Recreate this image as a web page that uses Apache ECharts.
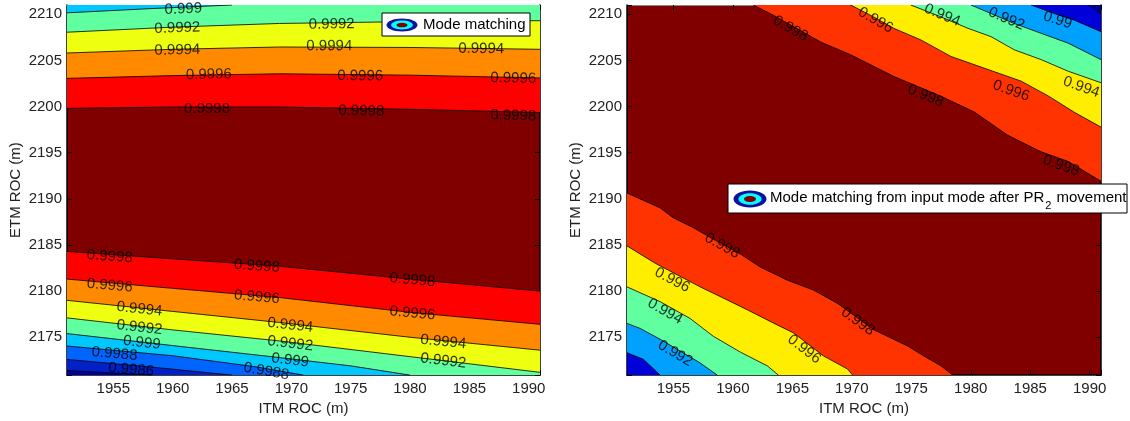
<!DOCTYPE html>
<html>
<head>
<meta charset="utf-8">
<script src="https://cdn.jsdelivr.net/npm/echarts@6/dist/echarts.min.js"></script>
<style>
html, body { margin: 0; padding: 0; background: #fff; }
#chart { width: 1130px; height: 421px; }
</style>
</head>
<body>
<div id="chart"></div>
<script>
// axis extents (m)
const X_MIN = 1951.1, X_MAX = 1990.95;
const Y_MIN = 2170.9, Y_MAX = 2211.0;

// ---- left panel: contour lines [ITM ROC, ETM ROC] ----
// upper family (value falls toward the top)
const leftUp9998 = [[1951.1, 2199.8], [1960, 2199.95], [1969, 2199.95], [1980, 2199.7], [1990.95, 2199.35]];
const leftUp9996 = [[1951.1, 2203.05], [1960, 2203.35], [1969, 2203.55], [1980, 2203.4], [1990.95, 2203.1]];
const leftUp9994 = [[1951.1, 2205.8], [1960, 2206.2], [1969, 2206.45], [1980, 2206.4], [1990.95, 2206.2]];
const leftUp9992 = [[1951.1, 2208.05], [1960, 2208.6], [1969, 2209.0], [1980, 2209.2], [1990.95, 2209.3]];
const leftUp999 = [[1951.1, 2210.15], [1958, 2210.6], [1965, 2211.0]];
// lower family (value falls toward the bottom)
const leftLo9998 = [[1951.1, 2184.3], [1960, 2183.5], [1969, 2182.7], [1980, 2181.3], [1990.95, 2180.0]];
const leftLo9996 = [[1951.1, 2181.3], [1960, 2180.3], [1969, 2179.3], [1980, 2177.7], [1990.95, 2176.4]];
const leftLo9994 = [[1951.1, 2179.0], [1960, 2177.8], [1969, 2176.6], [1980, 2175.0], [1990.95, 2173.6]];
const leftLo9992 = [[1951.1, 2177.1], [1960, 2175.8], [1969, 2174.6], [1980, 2172.9], [1990.95, 2171.2]];
const leftLo999 = [[1951.1, 2175.4], [1960, 2174.1], [1969, 2172.8], [1975, 2171.9], [1980, 2170.9]];
const leftLo9988 = [[1951.1, 2174.05], [1960, 2173.0], [1967, 2171.8], [1971, 2170.9]];
const leftLo9986 = [[1951.1, 2172.6], [1958, 2171.8], [1965, 2170.9]];
const leftLo9984 = [[1951.1, 2171.4], [1958.3, 2170.9]];

// ---- right panel: contour lines ----
const rightUp998 = [[1961.72, 2211.0], [1963.41, 2209.89], [1967.37, 2207.0], [1969.9, 2205.61], [1973.53, 2203.26],
  [1977.49, 2201.12], [1980.3, 2199.4], [1983.1, 2196.9], [1985.9, 2195.1], [1988.2, 2194.05], [1990.95, 2191.9]];
const rightUp996 = [[1969.9, 2211.0], [1971.84, 2209.71], [1973.53, 2208.47], [1975.8, 2207.22], [1978.33, 2205.43],
  [1981.45, 2204.01], [1984.24, 2202.75], [1986.51, 2201.15], [1988.71, 2199.37], [1990.95, 2197.77]];
const rightUp994 = [[1974.96, 2211.0], [1977.49, 2209.71], [1979.77, 2208.47], [1981.71, 2207.57], [1983.65, 2206.15],
  [1985.92, 2205.08], [1988.2, 2203.82], [1990.95, 2202.58]];
const rightUp992 = [[1980.02, 2211.0], [1981.71, 2210.07], [1983.65, 2209.0], [1985.92, 2207.93], [1988.2, 2206.86], [1990.95, 2205.08]];
const rightUp99 = [[1985.08, 2211.0], [1987.02, 2210.07], [1988.71, 2209.36], [1990.95, 2208.11]];
const rightUp988 = [[1989.89, 2211.0], [1990.95, 2210.07]];
const rightLo998 = [[1951.1, 2190.63], [1953.88, 2189.02], [1954.98, 2187.95], [1956.66, 2186.88], [1958.1, 2185.81],
  [1960.63, 2184.02], [1962.31, 2182.6], [1964.59, 2181.18], [1966.78, 2180.11], [1968.8, 2178.67], [1971.84, 2175.82],
  [1974.71, 2174.04], [1976.06, 2172.97], [1977.49, 2171.9], [1978.5, 2170.9]];
const rightLo996 = [[1951.1, 2184.9], [1953.5, 2183.0], [1957.25, 2180.46], [1959.53, 2179.04], [1961.22, 2177.97],
  [1963.41, 2176.54], [1965.1, 2175.47], [1967.63, 2172.97], [1969.65, 2171.55], [1970.07, 2170.9]];
const rightLo994 = [[1951.1, 2180.46], [1953.88, 2178.86], [1956.41, 2177.03], [1958.35, 2175.11], [1960.63, 2173.39],
  [1962.9, 2171.9], [1963.83, 2170.9]];
const rightLo992 = [[1951.1, 2176.5], [1952.2, 2175.96], [1953.88, 2174.79], [1955.57, 2173.5], [1957.25, 2172.22], [1958.69, 2170.9]];
const rightLo99 = [[1951.1, 2173.32], [1952.48, 2172.61], [1953.88, 2170.9]];

// contour labels [x, y, text]
const leftLabels = [
  [1960.9, 2210.55, '0.999'],
  [1960.4, 2208.5, '0.9992'], [1973.4, 2208.9, '0.9992'],
  [1960.4, 2206.1, '0.9994'], [1973.2, 2206.55, '0.9994'], [1986.0, 2206.25, '0.9994'],
  [1963.05, 2203.45, '0.9996'], [1975.8, 2203.3, '0.9996'], [1988.7, 2203.05, '0.9996'],
  [1962.9, 2199.7, '0.9998'], [1975.9, 2199.5, '0.9998'], [1988.7, 2199.0, '0.9998'],
  [1954.7, 2183.75, '0.9998'], [1967.1, 2182.7, '0.9998'], [1980.2, 2181.2, '0.9998'],
  [1954.7, 2180.6, '0.9996'], [1967.1, 2179.35, '0.9996'], [1980.2, 2177.6, '0.9996'],
  [1957.2, 2178.05, '0.9994'], [1969.9, 2176.3, '0.9994'], [1982.8, 2174.5, '0.9994'],
  [1957.2, 2176.05, '0.9992'], [1969.9, 2174.3, '0.9992'], [1982.8, 2172.45, '0.9992'],
  [1957.4, 2174.4, '0.999'], [1969.9, 2172.5, '0.999'],
  [1955.1, 2173.2, '0.9988'], [1967.9, 2171.3, '0.9988'],
  [1956.5, 2171.5, '0.9986']
];
const rightLabels = [
  [1964.85, 2208.45, '0.998'], [1976.2, 2201.15, '0.998'], [1987.6, 2193.6, '0.998'],
  [1972.0, 2209.35, '0.996'], [1983.4, 2201.7, '0.996'],
  [1977.6, 2209.9, '0.994'], [1989.3, 2202.1, '0.994'],
  [1983.0, 2209.5, '0.992'],
  [1987.3, 2209.35, '0.99'],
  [1959.1, 2184.9, '0.998'], [1970.5, 2176.7, '0.998'],
  [1954.9, 2181.2, '0.996'], [1966.0, 2173.7, '0.996'],
  [1954.3, 2177.8, '0.994'],
  [1955.15, 2173.25, '0.992']
];

const FONT = "'Liberation Sans', Arial, Helvetica, sans-serif";
const DARK_RED = '#800000';

// each line fills toward the plot edge with the colour of the band beyond it
const leftContours = [
  { lvl: '0.9998', pts: leftUp9998, to: 'end', color: '#ff0000' },
  { lvl: '0.9996', pts: leftUp9996, to: 'end', color: '#ff8a00' },
  { lvl: '0.9994', pts: leftUp9994, to: 'end', color: '#eeff10' },
  { lvl: '0.9992', pts: leftUp9992, to: 'end', color: '#60ffa0' },
  { lvl: '0.999', pts: leftUp999, to: 'end', color: '#00c8ff' },
  { lvl: '0.9998', pts: leftLo9998, to: 'start', color: '#ff0000' },
  { lvl: '0.9996', pts: leftLo9996, to: 'start', color: '#ff8a00' },
  { lvl: '0.9994', pts: leftLo9994, to: 'start', color: '#eeff10' },
  { lvl: '0.9992', pts: leftLo9992, to: 'start', color: '#60ffa0' },
  { lvl: '0.999', pts: leftLo999, to: 'start', color: '#00c8ff' },
  { lvl: '0.9988', pts: leftLo9988, to: 'start', color: '#0064ff' },
  { lvl: '0.9986', pts: leftLo9986, to: 'start', color: '#0020c8' },
  { lvl: '0.9984', pts: leftLo9984, to: 'start', color: '#0000a0' }
];
const rightContours = [
  { lvl: '0.998', pts: rightUp998, to: 'end', color: '#ff3300' },
  { lvl: '0.996', pts: rightUp996, to: 'end', color: '#ffee00' },
  { lvl: '0.994', pts: rightUp994, to: 'end', color: '#60ffa0' },
  { lvl: '0.992', pts: rightUp992, to: 'end', color: '#00a0ff' },
  { lvl: '0.99', pts: rightUp99, to: 'end', color: '#0000d8' },
  { lvl: '0.988', pts: rightUp988, to: 'end', color: '#000090' },
  { lvl: '0.998', pts: rightLo998, to: 'start', color: '#ff3300' },
  { lvl: '0.996', pts: rightLo996, to: 'start', color: '#ffee00' },
  { lvl: '0.994', pts: rightLo994, to: 'start', color: '#60ffa0' },
  { lvl: '0.992', pts: rightLo992, to: 'start', color: '#00a0ff' },
  { lvl: '0.99', pts: rightLo99, to: 'start', color: '#0000d8' }
];

const chart = echarts.init(document.getElementById('chart'));

function tickFmt(v) {
  return Math.abs(v / 5 - Math.round(v / 5)) < 1e-6 ? String(Math.round(v)) : '';
}

const xAxes = [], yAxes = [];
[0, 1].forEach(function (g) {
  const base = {
    type: 'value', gridIndex: g, splitNumber: 8, splitLine: { show: false },
    axisTick: { inside: true, length: 5, lineStyle: { color: '#000' } },
    axisLine: { lineStyle: { color: '#000', width: 1.5 } }
  };
  const lab = { fontSize: 15, color: '#222', fontFamily: FONT, margin: 6, formatter: tickFmt };
  const nameStyle = { fontSize: 15, color: '#222', fontFamily: FONT };
  xAxes.push(Object.assign({}, base, {
    min: X_MIN, max: X_MAX, position: 'bottom', axisLabel: lab,
    name: 'ITM ROC (m)', nameLocation: 'middle', nameGap: 21, nameTextStyle: nameStyle
  }));
  xAxes.push(Object.assign({}, base, {
    min: X_MIN, max: X_MAX, position: 'top', axisLabel: { show: false },
    axisLine: { lineStyle: { color: '#888', width: 1 } }
  }));
  yAxes.push(Object.assign({}, base, {
    min: Y_MIN, max: Y_MAX, position: 'left', axisLabel: Object.assign({}, lab, { margin: 5 }),
    name: 'ETM ROC (m)', nameLocation: 'middle', nameGap: 44, nameTextStyle: nameStyle
  }));
  yAxes.push(Object.assign({}, base, {
    min: Y_MIN, max: Y_MAX, position: 'right', axisLabel: { show: false }
  }));
});

function contourSeries(list, g) {
  return list.map(function (c) {
    return {
      type: 'line', xAxisIndex: g * 2, yAxisIndex: g * 2, data: c.pts,
      symbol: 'none', silent: true, z: 2,
      lineStyle: { color: '#000', width: 0.8 },
      areaStyle: { color: c.color, opacity: 1, origin: c.to }
    };
  });
}

function yOnLine(pts, x) {
  let i = 0;
  while (i < pts.length - 2 && x > pts[i + 1][0]) i++;
  const a = pts[i], b = pts[i + 1];
  return { y: a[1] + (b[1] - a[1]) * (x - a[0]) / (b[0] - a[0]), a: a, b: b };
}

function labelSeries(labels, list, g, withAngle) {
  const data = labels.map(function (l) {
    let best = null, bestD = Infinity;
    list.forEach(function (c) {
      if (c.lvl !== l[2]) return;
      const r = yOnLine(c.pts, l[0]);
      const d = Math.abs(r.y - l[1]);
      if (d < bestD) { bestD = d; best = r; }
    });
    let rot = 0;
    if (withAngle && best) {
      const p0 = chart.convertToPixel({ gridIndex: g }, best.a);
      const p1 = chart.convertToPixel({ gridIndex: g }, best.b);
      rot = -Math.atan2(p1[1] - p0[1], p1[0] - p0[0]) * 180 / Math.PI;
    }
    return { value: [l[0], l[1]], name: l[2], label: { rotate: rot } };
  });
  return {
    type: 'scatter', xAxisIndex: g * 2, yAxisIndex: g * 2, data: data,
    symbolSize: 2, itemStyle: { color: 'rgba(0,0,0,0)' }, silent: true, z: 5,
    label: {
      show: true, position: 'inside', formatter: '{b}',
      fontSize: 15, fontFamily: FONT, color: '#000'
    }
  };
}

// legend boxes
const meas = document.createElement('canvas').getContext('2d');
meas.font = '15px ' + FONT;
const rText = 'Mode matching from input mode after PR';
const rW = meas.measureText(rText).width;
function icon(cx, cy, rx, ry) {
  return [
    { type: 'ellipse', shape: { cx: cx, cy: cy, rx: rx, ry: ry }, style: { fill: '#0a10a0' }, z: 101 },
    { type: 'ellipse', shape: { cx: cx, cy: cy, rx: rx * 0.7, ry: ry * 0.68 }, style: { fill: '#00ffff' }, z: 102 },
    { type: 'ellipse', shape: { cx: cx, cy: cy, rx: rx * 0.36, ry: ry * 0.36 }, style: { fill: DARK_RED }, z: 103 }
  ];
}
function txt(x, y, s, size) {
  return {
    type: 'text', x: x, y: y, z: 104,
    style: { text: s, fill: '#000', font: size + 'px ' + FONT, textVerticalAlign: 'middle', verticalAlign: 'middle' }
  };
}
const graphics = [
  { type: 'rect', shape: { x: 382, y: 13, width: 148, height: 23 }, style: { fill: '#fff', stroke: '#000', lineWidth: 1 }, z: 100 }
].concat(icon(402, 25, 15.5, 6.5), [txt(423, 25, 'Mode matching', 15)], [
  { type: 'rect', shape: { x: 728, y: 184, width: 399, height: 29 }, style: { fill: '#fff', stroke: '#000', lineWidth: 1 }, z: 100 }
], icon(750, 199, 16.5, 8.5), [
  txt(770, 198, rText, 15),
  txt(770 + rW + 1, 206, '2', 11),
  txt(770 + rW + 8, 198, ' movement', 15)
]);

function buildOption(withAngle) {
  return {
    animation: false,
    grid: [
      { left: 67, top: 5, width: 473, height: 374, show: true, backgroundColor: DARK_RED, borderWidth: 0 },
      { left: 627, top: 5, width: 474, height: 374, show: true, backgroundColor: DARK_RED, borderWidth: 0 }
    ],
    xAxis: xAxes,
    yAxis: yAxes,
    series: contourSeries(leftContours, 0)
      .concat(contourSeries(rightContours, 1))
      .concat([labelSeries(leftLabels, leftContours, 0, withAngle), labelSeries(rightLabels, rightContours, 1, withAngle)]),
    graphic: graphics
  };
}

chart.setOption(buildOption(false));
chart.setOption(buildOption(true));
</script>
</body>
</html>
